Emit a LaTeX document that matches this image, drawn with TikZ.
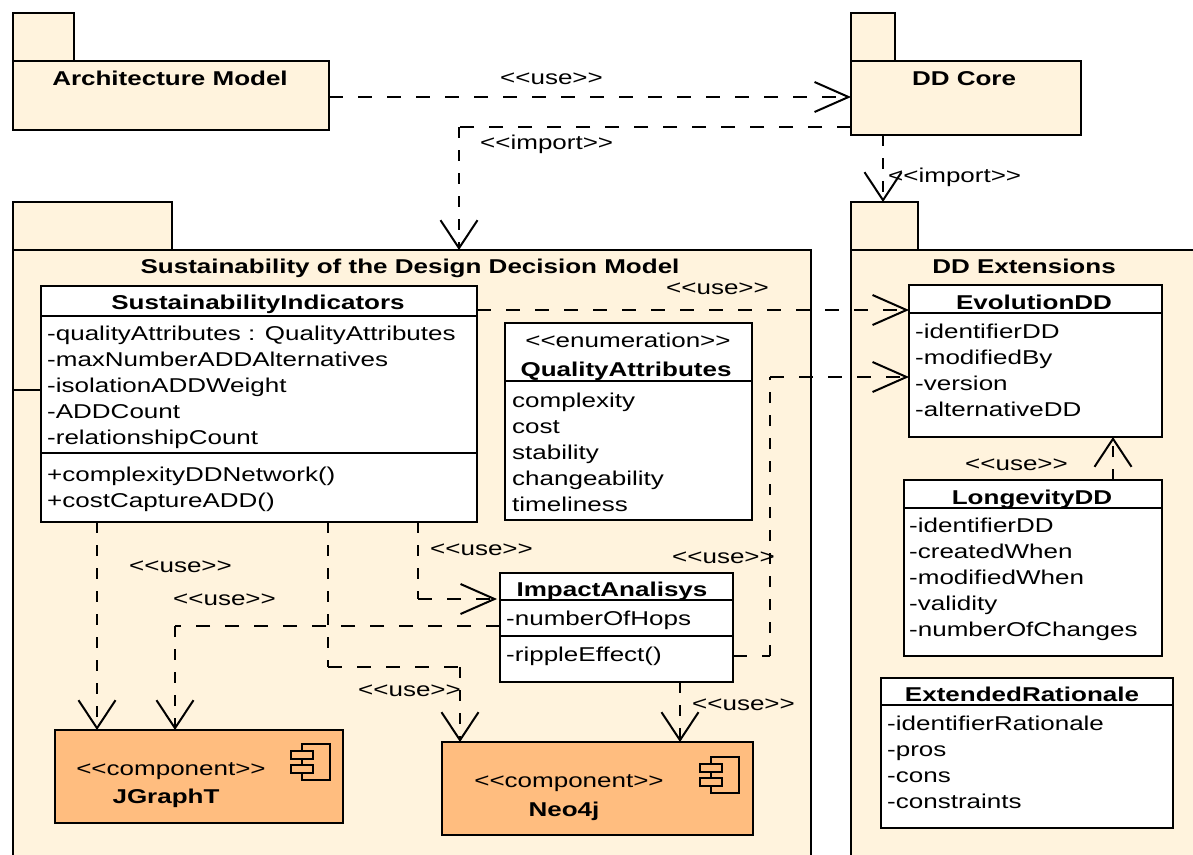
\documentclass[tikz,border=0pt]{standalone}
\usepackage{fontspec}
\setmainfont[FakeStretch=1.3]{Liberation Sans}
\usetikzlibrary{arrows.meta}
\definecolor{pk}{HTML}{FFF3DD}
\definecolor{cp}{HTML}{FFBD7F}
\tikzset{
 x=1pt,y=-1pt,
 shp/.style={rectangle,draw=black,line width=1.8pt,outer sep=0pt,inner sep=0pt},
 pkg/.style={shp,fill=pk},
 cls/.style={shp,fill=white},
 comp/.style={shp,fill=cp},
 sep/.style={draw=black,line width=1.8pt},
 depH/.style={draw=black,line width=2.2pt,dash pattern=on 14pt off 15pt},
 depV/.style={draw=black,line width=2.2pt,dash pattern=on 11pt off 12pt},
 tipH/.style={depH,-{Straight Barb[length=34pt,width=30pt,line width=2pt]}},
 tipV/.style={depV,-{Straight Barb[length=28pt,width=37pt,line width=2pt]}},
 lbl/.style={anchor=west,inner sep=0pt,text height=14pt,text depth=0pt,font=\fontsize{20}{24}\selectfont},
 ttl/.style={anchor=center,inner sep=0pt,text height=14pt,text depth=0pt,font=\fontsize{20}{24}\selectfont\bfseries},
}
% \bx{name}{style}{x1}{y1}{x2}{y2}
\newcommand{\bx}[6]{\pgfmathsetmacro{\bxw}{(#5)-(#3)}\pgfmathsetmacro{\bxh}{(#6)-(#4)}\pgfmathsetmacro{\bxx}{((#3)+(#5))/2}\pgfmathsetmacro{\bxy}{((#4)+(#6))/2}%
 \node[#2,minimum width=\bxw pt,minimum height=\bxh pt] (#1) at (\bxx,\bxy) {};}
\newcommand{\attrs}[4]{\foreach \t [count=\i from 0] in {#4} {\node[lbl] (#1\i) at (#2,#3+26*\i) {\t};}}
\newcommand{\compicon}[3]{\bx{#1b}{shp}{#2}{#3}{#2+28}{#3+36}
 \bx{#1u}{comp}{#2-11}{#3+7}{#2+11}{#3+15}
 \bx{#1d}{comp}{#2-11}{#3+21}{#2+11}{#3+29}}
\begin{document}
\begin{tikzpicture}
\useasboundingbox (0,0) rectangle (1193,854);
% packages
\bx{amtab}{pkg}{13}{13}{74}{61}
\bx{am}{pkg}{13}{61}{329}{130}
\node[ttl] (amt) at (170,78) {Architecture Model};
\bx{coretab}{pkg}{851}{13}{895}{61}
\bx{core}{pkg}{851}{61}{1081}{135}
\node[ttl] (coret) at (964,78) {DD Core};
\bx{suttab}{pkg}{13}{202}{172}{250}
\bx{sus}{pkg}{13}{250}{811}{880}
\node[ttl] (sust) at (410,266) {Sustainability of the Design Decision Model};
\bx{exttab}{pkg}{851}{202}{918}{250}
\bx{ext}{pkg}{851}{250}{1220}{880}
\node[ttl] (extt) at (1024,266) {DD Extensions};
\draw[sep] (13,390) -- (41,390);
% SustainabilityIndicators
\bx{si}{cls}{41}{286}{477}{522}
\node[ttl] (sit) at (258,302) {SustainabilityIndicators};
\draw[sep] (41,316) -- (477,316);
\draw[sep] (41,453) -- (477,453);
\attrs{sia}{47}{333}{-qualityAttributes : QualityAttributes,-maxNumberADDAlternatives,-isolationADDWeight,-ADDCount,-relationshipCount}
\attrs{sio}{47}{474}{+complexityDDNetwork(),+costCaptureADD()}
% QualityAttributes
\bx{qa}{cls}{505}{323}{752}{520}
\node[lbl,anchor=center] (qas) at (628,340) {<{}<enumeration>{}>};
\node[ttl] (qat) at (626,369) {QualityAttributes};
\draw[sep] (505,381) -- (752,381);
\attrs{qav}{512}{400}{complexity,cost,stability,changeability,timeliness}
% ImpactAnalisys
\bx{ia}{cls}{500}{573}{733}{682}
\node[ttl] (iat) at (612,589) {ImpactAnalisys};
\draw[sep] (500,600) -- (733,600);
\draw[sep] (500,636) -- (733,636);
\attrs{iaa}{506}{618}{-numberOfHops}
\attrs{iao}{506}{654}{-rippleEffect()}
% Evolution
\bx{ev}{cls}{909}{285}{1162}{437}
\node[ttl] (evt) at (1034,302) {EvolutionDD};
\draw[sep] (909,313) -- (1162,313);
\attrs{eva}{915}{331}{-identifierDD,-modifiedBy,-version,-alternativeDD}
% Longevity
\bx{lo}{cls}{904}{480}{1162}{656}
\node[ttl] (lot) at (1032,497) {LongevityDD};
\draw[sep] (904,508) -- (1162,508);
\attrs{loa}{909}{525}{-identifierDD,-createdWhen,-modifiedWhen,-validity,-numberOfChanges}
% Extended
\bx{er}{cls}{881}{678}{1173}{828}
\node[ttl] (ert) at (1022,694) {ExtendedRationale};
\draw[sep] (881,705) -- (1173,705);
\attrs{era}{887}{723}{-identifierRationale,-pros,-cons,-constraints}
% components
\bx{jg}{comp}{55}{730}{343}{823}
\node[lbl,anchor=center] (jgs) at (171,768) {<{}<component>{}>};
\node[ttl] (jgt) at (166,796) {JGraphT};
\compicon{jgi}{302}{744}
\bx{ne}{comp}{442}{742}{753}{835}
\node[lbl,anchor=center] (nes) at (569,780) {<{}<component>{}>};
\node[ttl] (net) at (564,809) {Neo4j};
\compicon{nei}{711}{757}
% connectors
\draw[tipH] (am.east |- 0,97) -- (core.west |- 0,97);
\coordinate (b1) at (459,127);
\draw[depH] (core.west |- 0,127) -- (b1);
\draw[tipV] (b1) -- (b1 |- sus.north);
\draw[tipV] (883,135) -- (883,202);
\draw[tipH] (si.east |- 0,310) -- (ev.west |- 0,310);
\coordinate (e1) at (770,656); \coordinate (e2) at (770,377);
\draw[depH] (ia.east |- e1) -- (e1);
\draw[depV] (e1) -- (e2);
\draw[tipH] (e2) -- (ev.west |- e2);
\draw[tipV] (1113,480) -- (1113,437);
\draw[tipV] (97,522) -- (97,730);
\coordinate (h1) at (175,626);
\draw[depH] (ia.west |- h1) -- (h1);
\draw[tipV] (h1) -- (h1 |- jg.north);
\coordinate (i1) at (328,667); \coordinate (i2) at (460,667);
\draw[depV] (i1 |- si.south) -- (i1);
\draw[depH] (i1) -- (i2);
\draw[tipV] (i2) -- (i2 |- ne.north);
\coordinate (j1) at (418,599);
\draw[depV] (j1 |- si.south) -- (j1);
\draw[tipH] (j1) -- (497,599);
\draw[tipV] (680,682) -- (680,742);
% labels
\foreach \x/\y/\t [count=\i] in {500/77/use,480/142/import,888/175/import,666/287/use,965/463/use,430/548/use,672/556/use,129/565/use,173/598/use,358/689/use,692/703/use}{
 \node[lbl] (lab\i) at (\x,\y) {<{}<\t>{}>};}
\end{tikzpicture}
\end{document}
